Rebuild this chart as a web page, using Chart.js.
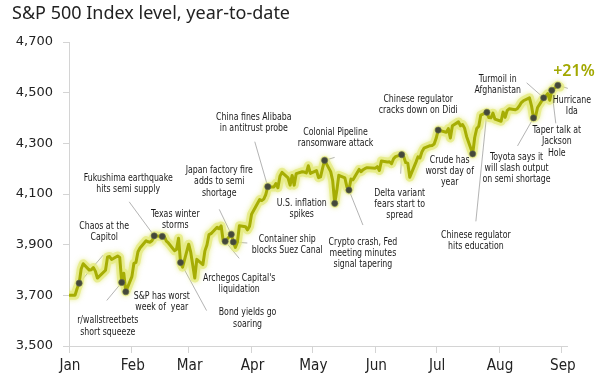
<!DOCTYPE html>
<html><head><meta charset="utf-8">
<script src="https://cdn.jsdelivr.net/npm/chart.js@4.4.1/dist/chart.umd.min.js"></script>
<style>html,body{margin:0;padding:0;background:#fff;}#wrap{width:600px;height:383px;position:relative;}canvas{display:block;}</style>
</head><body><div id="wrap"><canvas id="c" width="600" height="383" style="width:600px;height:383px"></canvas></div>
<script>
// ---------- DATA ----------
const titleText = 'S&P 500 Index level, year-to-date';
const dates = [
'2021-01-01','2021-01-04','2021-01-05','2021-01-06','2021-01-07','2021-01-08','2021-01-11','2021-01-12','2021-01-13','2021-01-14','2021-01-15','2021-01-19','2021-01-20','2021-01-21','2021-01-22','2021-01-25','2021-01-26','2021-01-27','2021-01-28','2021-01-29',
'2021-02-01','2021-02-02','2021-02-03','2021-02-04','2021-02-05','2021-02-08','2021-02-09','2021-02-10','2021-02-11','2021-02-12','2021-02-16','2021-02-17','2021-02-18','2021-02-19','2021-02-22','2021-02-23','2021-02-24','2021-02-25','2021-02-26',
'2021-03-01','2021-03-02','2021-03-03','2021-03-04','2021-03-05','2021-03-08','2021-03-09','2021-03-10','2021-03-11','2021-03-12','2021-03-15','2021-03-16','2021-03-17','2021-03-18','2021-03-19','2021-03-22','2021-03-23','2021-03-24','2021-03-25','2021-03-26','2021-03-29','2021-03-30','2021-03-31',
'2021-04-01','2021-04-05','2021-04-06','2021-04-07','2021-04-08','2021-04-09','2021-04-12','2021-04-13','2021-04-14','2021-04-15','2021-04-16','2021-04-19','2021-04-20','2021-04-21','2021-04-22','2021-04-23','2021-04-26','2021-04-27','2021-04-28','2021-04-29','2021-04-30',
'2021-05-03','2021-05-04','2021-05-05','2021-05-06','2021-05-07','2021-05-10','2021-05-11','2021-05-12','2021-05-13','2021-05-14','2021-05-17','2021-05-18','2021-05-19','2021-05-20','2021-05-21','2021-05-24','2021-05-25','2021-05-26','2021-05-27','2021-05-28',
'2021-06-01','2021-06-02','2021-06-03','2021-06-04','2021-06-07','2021-06-08','2021-06-09','2021-06-10','2021-06-11','2021-06-14','2021-06-15','2021-06-16','2021-06-17','2021-06-18','2021-06-21','2021-06-22','2021-06-23','2021-06-24','2021-06-25','2021-06-28','2021-06-29','2021-06-30',
'2021-07-01','2021-07-02','2021-07-06','2021-07-07','2021-07-08','2021-07-09','2021-07-12','2021-07-13','2021-07-14','2021-07-15','2021-07-16','2021-07-19','2021-07-20','2021-07-21','2021-07-22','2021-07-23','2021-07-26','2021-07-27','2021-07-28','2021-07-29','2021-07-30',
'2021-08-02','2021-08-03','2021-08-04','2021-08-05','2021-08-06','2021-08-09','2021-08-10','2021-08-11','2021-08-12','2021-08-13','2021-08-16','2021-08-17','2021-08-18','2021-08-19','2021-08-20','2021-08-23','2021-08-24','2021-08-25','2021-08-26','2021-08-27','2021-08-30','2021-08-31'
];
const closes = [
3700.65,3700.65,3726.86,3748.14,3803.79,3824.68,3799.61,3801.19,3809.84,3795.54,3768.25,3798.91,3851.85,3853.07,3841.47,3855.36,3849.62,3750.77,3787.38,3714.24,
3773.86,3826.31,3830.17,3871.74,3886.83,3915.59,3911.23,3909.88,3916.38,3934.83,3932.59,3931.33,3913.97,3906.71,3876.50,3881.37,3925.43,3829.34,3811.15,
3901.82,3870.29,3819.72,3768.47,3841.94,3821.35,3875.44,3898.81,3939.34,3943.34,3968.94,3962.71,3974.12,3915.46,3913.10,3940.59,3910.52,3889.14,3909.52,3974.54,3971.09,3958.55,3972.89,
4019.87,4077.91,4073.94,4079.95,4097.17,4128.80,4127.99,4141.59,4124.66,4170.42,4185.47,4163.26,4134.94,4173.42,4134.98,4180.17,4187.62,4186.72,4183.18,4211.47,4181.17,
4192.66,4164.66,4167.59,4201.62,4232.60,4188.43,4152.10,4063.04,4112.50,4173.85,4163.29,4127.83,4115.68,4159.12,4155.86,4197.05,4188.13,4195.99,4200.88,4204.11,
4202.04,4208.12,4192.85,4229.89,4226.52,4227.26,4219.55,4239.18,4247.44,4255.15,4246.59,4223.70,4221.86,4166.45,4224.79,4246.44,4241.84,4266.49,4280.70,4290.61,4291.80,4297.50,
4319.94,4352.34,4343.54,4358.13,4320.82,4369.55,4384.63,4369.21,4374.30,4360.03,4327.16,4258.49,4323.06,4358.69,4367.48,4411.79,4422.30,4401.46,4400.64,4419.15,4395.26,
4387.16,4423.15,4402.66,4429.10,4436.52,4432.35,4436.75,4447.70,4460.83,4468.00,4479.71,4448.08,4400.27,4405.80,4441.67,4479.53,4486.23,4496.19,4470.00,4509.37,4528.79,4522.68
];
const monthLabels = ['Jan','Feb','Mar','Apr','May','Jun','Jul','Aug','Sep'];
const yTicks = [3500,3700,3900,4100,4300,4500,4700];
const eventDates = ['2021-01-06','2021-01-27','2021-01-29','2021-02-12','2021-02-16','2021-02-25','2021-03-19','2021-03-22','2021-03-23','2021-04-09','2021-05-07','2021-05-12','2021-05-19','2021-06-14','2021-07-02','2021-07-19','2021-07-26','2021-08-23','2021-08-18','2021-08-27','2021-08-30'];
const eventLabels = [
 ['Chaos at the','Capitol'],
 ['r/wallstreetbets','short squeeze'],
 ['S&P has worst','week of  year'],
 ['Fukushima earthquake','hits semi supply'],
 ['Texas winter','storms'],
 ['Bond yields go','soaring'],
 ["Archegos Capital's",'liquidation'],
 ['Japan factory fire','adds to semi','shortage'],
 ['Container ship','blocks Suez Canal'],
 ['China fines Alibaba','in antitrust probe'],
 ['Colonial Pipeline','ransomware attack'],
 ['U.S. inflation','spikes'],
 ['Crypto crash, Fed','meeting minutes','signal tapering'],
 ['Delta variant','fears start to','spread'],
 ['Chinese regulator','cracks down on Didi'],
 ['Crude has','worst day of','year'],
 ['Chinese regulator','hits education'],
 ['Turmoil in','Afghanistan'],
 ['Toyota says it','will slash output','on semi shortage'],
 ['Taper talk at','Jackson','Hole'],
 ['Hurricane','Ida']
];
const changeLabel = '+21%';

// ---------- LAYOUT (pixel offsets of label / leader end relative to the event dot) ----------
const eventLayout = [
 {tx:25, ty:-57, lx:24, ly:-28},
 {tx:-14, ty:38, lx:-15, ly:18},
 {tx:36, ty:4},
 {tx:-26, ty:-58, lx:-25, ly:-34},
 {tx:13, ty:-22},
 {tx:67, ty:50, lx:26, ly:48},
 {tx:14, ty:37, lx:14, ly:17},
 {tx:-12, ty:-64, lx:-12, ly:-25},
 {tx:54, ty:-3, lx:14, ly:1},
 {tx:-14, ty:-70, lx:-13, ly:-45},
 {tx:11, ty:-28, lx:10, ly:-3},
 {tx:-33, ty:0},
 {tx:14, ty:52, lx:14, ly:35},
 {tx:-2, ty:38, lx:-1, ly:19},
 {tx:-20, ty:-31},
 {tx:-23, ty:6},
 {tx:-11, ty:123, lx:-11, ly:109},
 {tx:-46, ty:-19, lx:-17, ly:-15},
 {tx:-17, ty:39, lx:-16, ly:28},
 {tx:5, ty:40, lx:4, ly:33},
 {tx:14, ty:15, lx:10, ly:3}
];

// ---------- HELPERS ----------
const DAY = 86400000;
const t0 = Date.UTC(2021,0,1);
function dayOf(s){const p=s.split('-');return (Date.UTC(+p[0],+p[1]-1,+p[2])-t0)/DAY;}
const monthStarts = monthLabels.map((m,i)=>(Date.UTC(2021,i,1)-t0)/DAY);
function hasFont(name){const c=document.createElement('canvas').getContext('2d');const s='abcdefghijMWil0123 Narrow';c.font='40px monospace';const a=c.measureText(s).width;c.font='40px "'+name+'", monospace';return Math.abs(c.measureText(s).width-a)>0.5;}
let narrow = null;
for (const f of ['Liberation Sans Narrow','DejaVu Sans Condensed']) { if (hasFont(f)) { narrow = f; break; } }
const narrowFam = narrow ? '"'+narrow+'"' : 'Roboto, sans-serif';
const mctx = document.createElement('canvas').getContext('2d');
mctx.font = '11px ' + narrowFam;
const annSqueeze = Math.min(1, 89 / mctx.measureText('Fukushima earthquake').width);
mctx.font = '15.5px ' + narrowFam;
const monSqueeze = Math.min(1, 21 / mctx.measureText('Jan').width);

const series = dates.map((d,i)=>({x:dayOf(d), y:closes[i]}));
const eventPts = eventDates.map(d=>({x:dayOf(d), y:closes[dates.indexOf(d)]}));

function narrowText(ctx, txt, x, y, k){
  ctx.save(); ctx.translate(x,y); ctx.scale(k,1); ctx.fillText(txt,0,0); ctx.restore();
}

const annot = {
  id:'annot',
  beforeDatasetsDraw(chart){
    const ctx=chart.ctx, xs=chart.scales.x, ys=chart.scales.y;
    ctx.save();
    ctx.strokeStyle='#a0a0a0'; ctx.lineWidth=0.8;
    eventPts.forEach((p,i)=>{
      const L=eventLayout[i]; if(L.lx===undefined) return;
      const px=xs.getPixelForValue(p.x), py=ys.getPixelForValue(p.y);
      ctx.beginPath(); ctx.moveTo(px,py); ctx.lineTo(px+L.lx,py+L.ly); ctx.stroke();
    });
    ctx.restore();
  },
  afterDatasetsDraw(chart){
    const ctx=chart.ctx, xs=chart.scales.x, ys=chart.scales.y;
    ctx.save();
    ctx.fillStyle='#1a1a1a'; ctx.textAlign='center'; ctx.textBaseline='middle';
    ctx.font='11px '+narrowFam;
    eventPts.forEach((p,i)=>{
      const L=eventLayout[i];
      const px=xs.getPixelForValue(p.x), py=ys.getPixelForValue(p.y);
      eventLabels[i].forEach((line,j)=>{ narrowText(ctx, line, px+L.tx, py+L.ty+j*11.2, annSqueeze); });
    });
    ctx.font='15.5px '+narrowFam; ctx.fillStyle='#222';
    xs.ticks.forEach((t)=>{ narrowText(ctx, monthLabels[monthStarts.indexOf(t.value)], xs.getPixelForValue(t.value)+1, 366, monSqueeze); });
    const last=series[series.length-1];
    const lx=xs.getPixelForValue(last.x), ly=ys.getPixelForValue(last.y);
    ctx.fillStyle='#a2a800'; ctx.font='600 16px "Noto Sans", sans-serif';
    ctx.fillText(changeLabel, lx+14, ly-15);
    ctx.textAlign='left'; ctx.fillStyle='#222';
    ctx.font='18px "Noto Sans", sans-serif';
    ctx.fillText(titleText, 12, 14);
    ctx.restore();
  }
};
const glow = {
  id:'glow',
  beforeDatasetDraw(chart,args){ if(args.index===0){ const c=chart.ctx; c.save(); c.shadowColor='rgba(222,230,100,0.9)'; c.shadowBlur=5; } },
  afterDatasetDraw(chart,args){ if(args.index===0){ chart.ctx.restore(); } }
};

new Chart(document.getElementById('c'), {
  type:'line',
  data:{ datasets:[
    {order:3, data:series, borderColor:'rgba(228,234,125,0.75)', borderWidth:9, pointRadius:0, tension:0, borderJoinStyle:'round', borderCapStyle:'round'},
    {order:2, data:series, borderColor:'#a6ad04', borderWidth:3, pointRadius:0, tension:0, borderJoinStyle:'round'},
    {order:1, data:eventPts, showLine:false, pointRadius:3.1, pointBackgroundColor:'#44483a', pointBorderColor:'#6b7050', pointBorderWidth:0.6}
  ]},
  options:{
    responsive:false, animation:false, devicePixelRatio:1,
    layout:{padding:{top:42,right:33,bottom:7,left:0}},
    plugins:{legend:{display:false}, tooltip:{enabled:false}, title:{display:false}},
    scales:{
      x:{type:'linear', min:0, max:245.5,
        afterBuildTicks(s){ s.ticks = monthStarts.map(v=>({value:v})); },
        afterFit(s){ s.height=30; },
        ticks:{autoSkip:false, maxRotation:0, padding:4, color:'rgba(0,0,0,0)', font:{family:narrowFam, size:15.5},
          callback:(v)=>monthLabels[monthStarts.indexOf(v)]},
        grid:{drawOnChartArea:false, drawTicks:true, tickLength:7, color:'#d4d4d4'},
        border:{color:'#d4d4d4'}
      },
      y:{min:3500, max:4700,
        afterBuildTicks(s){ s.ticks = yTicks.map(v=>({value:v})); },
        afterFit(s){ s.width=69; },
        ticks:{padding:10, color:'#222', font:{family:'"DejaVu Sans", sans-serif', size:13},
          callback:(v)=>v.toLocaleString('en-US')},
        grid:{drawOnChartArea:false, drawTicks:true, tickLength:6, color:'#d4d4d4'},
        border:{color:'#d4d4d4'}
      }
    }
  },
  plugins:[glow, annot]
});
</script></body></html>
